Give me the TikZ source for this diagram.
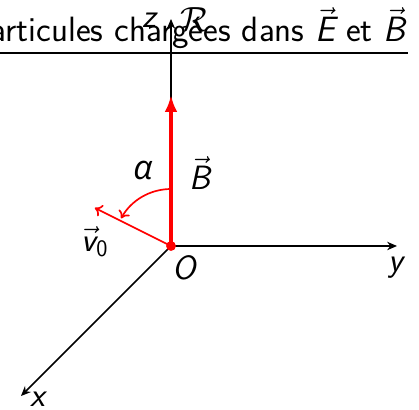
\documentclass[tikz,border=0pt]{standalone}
\usepackage{fontspec}
\renewcommand{\familydefault}{\sfdefault}
\newfontfamily\grk{Open Sans}
\usetikzlibrary{arrows.meta}
\newcommand{\vsf}[1]{\textit{#1}}
\begin{document}
\begin{tikzpicture}[
    axe/.style={-{Stealth[length=7pt,width=6pt]},line width=1.1pt},
    lab/.style={font=\fontsize{24}{28}\selectfont},
  ]
    \useasboundingbox (-4.275,-4.1) rectangle (6.2,6.15);
    % titre
    \node[anchor=base east,font=\fontsize{25}{29}\selectfont,inner sep=0] (titre) at (5.88,5.1)
      {Particules charg\'ees dans $\vec{\vsf{E}}$ et $\vec{\vsf{B}}$};
    \draw[line width=2pt] (-4.4,4.825) -- (5.925,4.825);
    % repere
    \coordinate (O) at (0,0);
    \coordinate (zz) at (0,5.675);
    \coordinate (yy) at (5.65,0);
    \coordinate (xx) at (-3.75,-3.75);
    \draw[axe] (O) -- (zz);
    \draw[axe] (O) -- (yy);
    \draw[axe] (O) -- (xx);
    \node[lab] (z) at (-0.52,5.65) {\vsf{z}};
    \node[lab] (R) at (0.6,5.66) {$\mathcal{R}$};
    \node[lab] (y) at (5.65,-0.55) {\vsf{y}};
    \node[lab] (x) at (-3.3,-3.82) {\vsf{x}};
    \node[lab] (o) at (0.35,-0.55) {\vsf{O}};
    % champ et vitesse
    \coordinate (Bb) at (0,3.775);
    \coordinate (vv) at (153.4:2.13);
    \draw[red,line width=3pt,-{Latex[length=12pt,width=9pt]}] (O) -- (Bb);
    \draw[red,line width=1.2pt,-{To[length=5pt,width=9pt]}] (O) -- (vv);
    \draw[red,line width=1.2pt,-{To[length=5pt,width=9pt]}] (90:1.425) arc (90:151:1.425);
    \fill[red] (O) circle (3.5pt);
    \node[lab] (B) at (0.725,1.825) {$\vec{\vsf{B}}$};
    \node[lab] (alpha) at (-0.7,1.9) {\grk\itshape α};
    \node[lab] (v0) at (-1.9,0.1) {$\vec{\vsf{v}}_{\mathsf{0}}$};
\end{tikzpicture}
\end{document}
